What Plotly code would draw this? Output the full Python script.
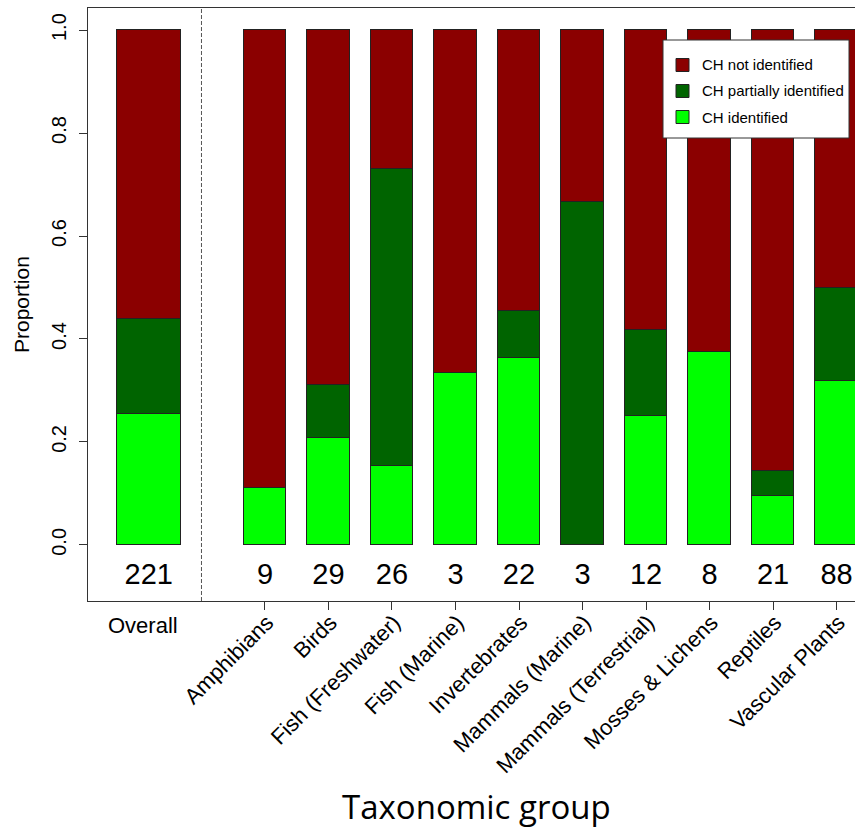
import plotly.graph_objects as go

# ---------------- data ----------------
overall_label = "Overall"
groups = ["Amphibians", "Birds", "Fish (Freshwater)", "Fish (Marine)", "Invertebrates",
          "Mammals (Marine)", "Mammals (Terrestrial)", "Mosses & Lichens", "Reptiles",
          "Vascular Plants"]
totals = [9, 29, 26, 3, 22, 3, 12, 8, 21, 88]
identified = [1, 6, 4, 1, 8, 0, 3, 3, 2, 28]
partial = [0, 3, 15, 0, 2, 2, 2, 0, 1, 16]

overall_total = 221
overall_identified = 56
overall_partial = 41

series_names = ["CH not identified", "CH partially identified", "CH identified"]
series_colors = ["#8B0000", "#006400", "#00FF00"]
y_ticks = [0.0, 0.2, 0.4, 0.6, 0.8, 1.0]

# ---------------- derived ----------------
all_tot = [overall_total] + totals
all_id = [overall_identified] + identified
all_pa = [overall_partial] + partial
all_not = [t - a - b for t, a, b in zip(all_tot, all_id, all_pa)]
p_id = [a / t for a, t in zip(all_id, all_tot)]
p_pa = [b / t for b, t in zip(all_pa, all_tot)]
p_not = [c / t for c, t in zip(all_not, all_tot)]

# layout geometry (pixels)
W, H = 855, 831
L, R, T, B = 88, 0, 8, 230
pw, ph = W - L - R, H - T - B

group_pos = list(range(1, len(groups) + 1))
overall_pos = -0.83
xpos = [overall_pos] + group_pos
widths = [1.0] + [0.67] * len(groups)
xr = [-1.787, 10.291]
yr = [-0.109, 1.043]

def px2x(p):
    return xr[0] + (p - L) / pw * (xr[1] - xr[0])

def xp(p):
    return (p - L) / pw

def yp(p):
    return (H - B - p) / ph

FONT = "Liberation Sans, Arial, sans-serif"
EDGE = "#222222"

fig = go.Figure()
stack = [(series_names[2], p_id, series_colors[2]),
         (series_names[1], p_pa, series_colors[1]),
         (series_names[0], p_not, series_colors[0])]
for name, vals, col in stack:
    fig.add_trace(go.Bar(
        x=xpos, y=vals, width=widths, name=name,
        marker=dict(color=col, line=dict(color=EDGE, width=1)),
        hoverinfo="skip", showlegend=False,
    ))

fig.add_trace(go.Scatter(
    x=xpos, y=[-0.062] * len(xpos), text=[str(t) for t in all_tot],
    mode="text", textfont=dict(size=29, color="black", family=FONT),
    showlegend=False, hoverinfo="skip", cliponaxis=False,
))

# separator between overall and groups
fig.add_shape(type="line", xref="x", yref="paper", x0=0.0, x1=0.0, y0=0, y1=1,
              line=dict(color="#555555", width=1, dash="4px,2px"))

# legend box (drawn manually)
fig.add_shape(type="rect", xref="paper", yref="paper",
              x0=xp(663), x1=xp(849), y0=yp(138), y1=yp(40),
              fillcolor="white", line=dict(color="#333333", width=1), layer="above")
for i, (name, col) in enumerate(zip(series_names, series_colors)):
    cy = 65 + 26 * i
    fig.add_shape(type="rect", xref="paper", yref="paper",
                  x0=xp(676), x1=xp(689), y0=yp(cy + 6.5), y1=yp(cy - 6.5),
                  fillcolor=col, line=dict(color=EDGE, width=1), layer="above")
    fig.add_annotation(x=xp(700), y=yp(cy), xref="paper", yref="paper",
                       text=name, showarrow=False,
                       font=dict(size=15, color="black", family=FONT),
                       xanchor="left", yanchor="middle")

fig.add_annotation(x=px2x(143), y=yp(625), xref="x", yref="paper",
                   text=overall_label, showarrow=False,
                   font=dict(size=22, color="black", family=FONT),
                   xanchor="center", yanchor="middle")
fig.add_annotation(x=xp(21), y=yp(305), xref="paper", yref="paper",
                   text="Proportion", textangle=-90, showarrow=False,
                   font=dict(size=21, color="black", family=FONT),
                   xanchor="center", yanchor="middle")
fig.add_annotation(x=xp(476), y=yp(806), xref="paper", yref="paper",
                   text="Taxonomic group", showarrow=False,
                   font=dict(size=33, color="black", family="Open Sans, sans-serif"),
                   xanchor="center", yanchor="middle")

fig.update_layout(
    width=W, height=H, margin=dict(l=L, r=R, t=T, b=B, pad=0),
    paper_bgcolor="white", plot_bgcolor="white",
    barmode="stack", bargap=0,
    font=dict(family=FONT, color="black"),
    showlegend=False,
    xaxis=dict(range=xr, tickmode="array", tickvals=group_pos, ticktext=groups,
               tickangle=-45, ticks="outside", ticklen=8, tickcolor="#333333",
               tickfont=dict(size=22, family=FONT), showline=True, mirror=True,
               ticklabelstandoff=-9, ticklabelshift=2,
               linecolor="#333333", linewidth=1, showgrid=False, zeroline=False),
    yaxis=dict(range=yr, tickmode="array", tickvals=y_ticks, tickformat=".1f",
               tickangle=-90, ticks="outside", ticklen=8, tickcolor="#333333",
               tickfont=dict(size=20, family=FONT), showline=True, mirror=False,
               ticklabelstandoff=5,
               linecolor="#333333", linewidth=1, showgrid=False, zeroline=False),
)

fig.write_html("out.html", config={"displayModeBar": False},
               post_script="document.body.style.margin='0';document.body.style.overflow='hidden';")
